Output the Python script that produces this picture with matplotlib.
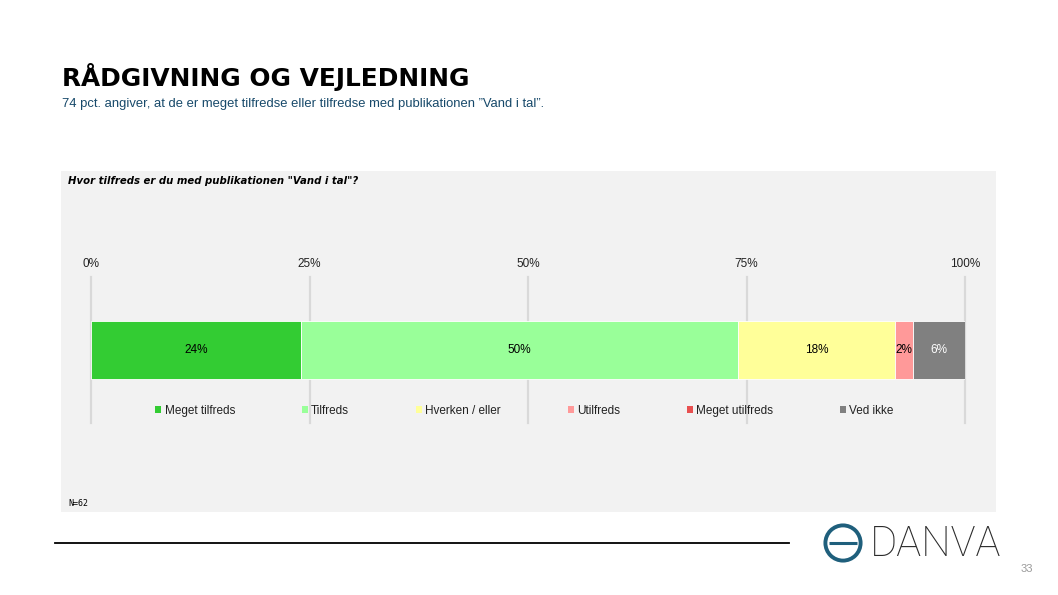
import numpy as np
import matplotlib
matplotlib.use('Agg')
import matplotlib.pyplot as plt
import matplotlib.patches as patches

# data
categories = ['Meget tilfreds', 'Tilfreds', 'Hverken / eller', 'Utilfreds', 'Meget utilfreds', 'Ved ikke']
shares = [24, 50, 18, 2, 0, 6]
colors = ['#33cc33', '#99ff99', '#ffff99', '#ff9999', '#e85050', '#808080']
label_colors = ['black', 'black', 'black', 'black', 'black', 'white']
tick_values = [0, 25, 50, 75, 100]
tick_labels = ['0%', '25%', '50%', '75%', '100%']

title = 'RÅDGIVNING OG VEJLEDNING'
subtitle = '74 pct. angiver, at de er meget tilfredse eller tilfredse med publikationen \u201dVand i tal\u201d.'
question = 'Hvor tilfreds er du med publikationen "Vand i tal"?'
n_text = 'N=62'
page_no = '33'

W, H = 1058, 595
fig = plt.figure(figsize=(W / 100, H / 100), dpi=100)
fig.patch.set_facecolor('white')


def fx(px):
    return px / W


def fy(py):
    return 1 - py / H


# grey chart panel
fig.patches.append(patches.Rectangle((fx(61), fy(512)), fx(996) - fx(61), fy(171) - fy(512),
                                     transform=fig.transFigure, facecolor='#f2f2f2',
                                     edgecolor='none', zorder=-10))

fig.text(fx(62), fy(77), title, fontsize=17.9, fontweight='bold', family='DejaVu Sans',
         va='center', ha='left', color='black')
fig.text(fx(62), fy(104), subtitle, fontsize=9.35, family='Liberation Sans',
         va='center', ha='left', color='#17496a')
fig.text(fx(68), fy(181), question, fontsize=7.25, fontweight='bold', style='italic',
         family='DejaVu Sans', va='center', ha='left', color='black')
fig.text(fx(68), fy(503), n_text, fontsize=6, family='DejaVu Sans Mono',
         va='center', ha='left', color='black')

# main chart
ax = fig.add_axes([fx(91), fy(423), fx(965) - fx(91), fy(277) - fy(423)])
ax.set_facecolor('none')
ax.set_xlim(0, 100)
ax.set_ylim(0, 1)
for s in ax.spines.values():
    s.set_visible(False)
ax.set_yticks([])
ax.xaxis.tick_top()
ax.set_xticks(tick_values)
ax.set_xticklabels(tick_labels, fontsize=8.5, family='Liberation Sans', color='#222222')
ax.tick_params(axis='x', length=0, pad=5)
for v in tick_values:
    ax.axvline(v, color='#d9d9d9', lw=1.6, zorder=0, clip_on=False)

left = 0
bar_h = 58 / 146
for cat, val, col, lc in zip(categories, shares, colors, label_colors):
    ax.barh(0.5, val, left=left, height=bar_h, color=col, edgecolor='white',
            linewidth=0.6, label=cat, zorder=2)
    if val > 0:
        ax.text(left + val / 2, 0.5, f'{val}%', ha='center', va='center', fontsize=8.5,
                family='Liberation Sans', color=lc, zorder=3)
    left += val

handles = [patches.Patch(facecolor=c, edgecolor='none') for c in colors]
leg = ax.legend(handles, categories, loc='center', bbox_to_anchor=(0.496, 12 / 146), ncol=6,
                frameon=False, prop={'family': 'Liberation Sans', 'size': 8.5},
                handlelength=0.5, handleheight=0.5, handletextpad=0.3, columnspacing=5.65,
                borderaxespad=0)
for t in leg.get_texts():
    t.set_color('#222222')

# bottom rule
fig.add_artist(plt.Line2D([fx(55), fx(789)], [fy(543), fy(543)], transform=fig.transFigure,
                          color='black', lw=1.3))

# logo
lax = fig.add_axes([fx(821), fy(565), fx(865) - fx(821), fy(521) - fy(565)])
lax.set_xlim(-1.1, 1.1)
lax.set_ylim(-1.1, 1.1)
lax.set_aspect('equal')
lax.axis('off')
logo_col = '#1f5f7c'
lax.add_patch(patches.Circle((0, 0), 0.88, fill=False, edgecolor=logo_col, lw=2.8))
lax.plot([-0.7, 0.7], [0, 0], color=logo_col, lw=2.2, solid_capstyle='butt')
fig.text(fx(870), fy(544), 'DANVA', fontsize=30, family='Roboto', fontweight='light',
         va='center', ha='left', color='#2b2b2b')

fig.text(fx(1027), fy(569), page_no, fontsize=8, family='Liberation Sans',
         va='center', ha='center', color='#9a9a9a')

fig.savefig('out.png', dpi=100, facecolor='white')
